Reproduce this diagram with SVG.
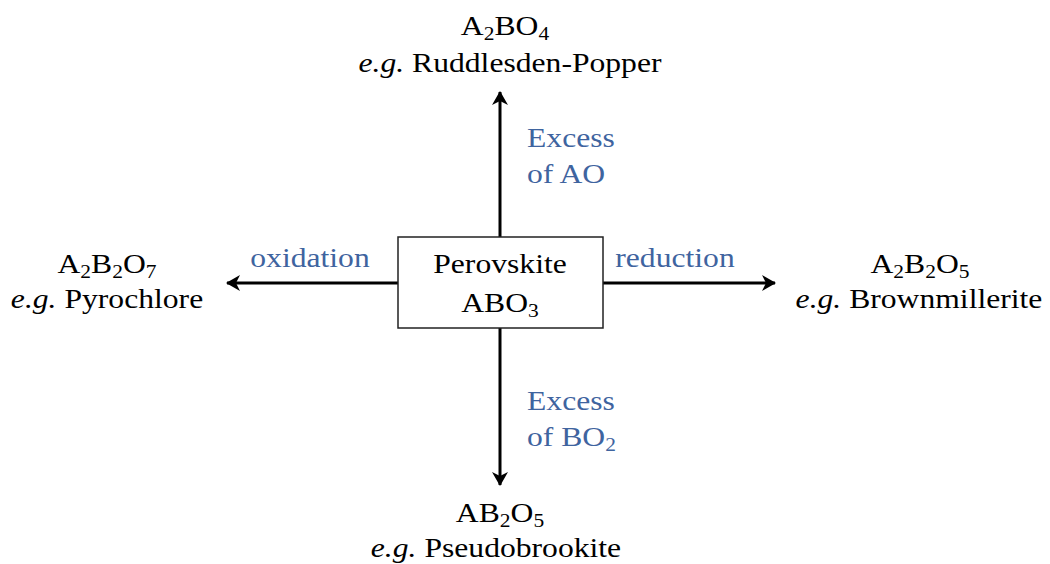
<svg xmlns="http://www.w3.org/2000/svg" width="1050" height="564" viewBox="0 0 1050 564" font-family="'Liberation Serif','Times New Roman',Times,serif">
<defs>
<style>
text{font-family:'Liberation Serif','Times New Roman',Times,serif;font-size:28px;fill:#000}
.b{fill:#3F649F}
.m{text-anchor:middle}
.s{font-size:19px}
.conn{stroke:#000;stroke-width:3;fill:none}
</style>
<marker id="ah" viewBox="0 0 14 16" refX="13" refY="8" markerWidth="14" markerHeight="16" markerUnits="userSpaceOnUse" orient="auto">
<path d="M0,0 L14,8 L0,16 L4,8 Z" fill="#000"/>
</marker>
</defs>
<rect width="1050" height="564" fill="#fff"/>
<g id="connectors">
<line class="conn" x1="500" y1="237" x2="500" y2="92" marker-end="url(#ah)"/>
<line class="conn" x1="500" y1="328" x2="500" y2="485" marker-end="url(#ah)"/>
<line class="conn" x1="398" y1="283" x2="227" y2="283" marker-end="url(#ah)"/>
<line class="conn" x1="603" y1="283" x2="775" y2="283" marker-end="url(#ah)"/>
<g transform="translate(527,147) scale(1.13,1)"><text class="b">Excess</text></g>
<g transform="translate(527,183) scale(1.13,1)"><text class="b">of AO</text></g>
<g transform="translate(527,410) scale(1.13,1)"><text class="b">Excess</text></g>
<g transform="translate(527,446) scale(1.13,1)"><text class="b">of BO<tspan class="s" dy="5">2</tspan></text></g>
<g transform="translate(310,267) scale(1.13,1)"><text class="b m">oxidation</text></g>
<g transform="translate(675,267) scale(1.13,1)"><text class="b m">reduction</text></g>
</g>
<g id="perovskite">
<rect x="398" y="237" width="205" height="91" fill="#fff" stroke="#222" stroke-width="1.5"/>
<g transform="translate(500,273) scale(1.13,1)"><text class="m">Perovskite</text></g>
<g transform="translate(500,312) scale(1.13,1)"><text class="m">ABO<tspan class="s" dy="5">3</tspan></text></g>
</g>
<g id="ruddlesden">
<g transform="translate(505,35) scale(1.13,1)"><text class="m">A<tspan class="s" dy="5">2</tspan><tspan dy="-5">BO</tspan><tspan class="s" dy="5">4</tspan></text></g>
<g transform="translate(510,72) scale(1.13,1)"><text class="m"><tspan font-style="italic">e.g.</tspan> Ruddlesden-Popper</text></g>
</g>
<g id="pyrochlore">
<g transform="translate(107,273) scale(1.13,1)"><text class="m">A<tspan class="s" dy="5">2</tspan><tspan dy="-5">B</tspan><tspan class="s" dy="5">2</tspan><tspan dy="-5">O</tspan><tspan class="s" dy="5">7</tspan></text></g>
<g transform="translate(107,308) scale(1.13,1)"><text class="m"><tspan font-style="italic">e.g.</tspan> Pyrochlore</text></g>
</g>
<g id="brownmillerite">
<g transform="translate(920,273) scale(1.13,1)"><text class="m">A<tspan class="s" dy="5">2</tspan><tspan dy="-5">B</tspan><tspan class="s" dy="5">2</tspan><tspan dy="-5">O</tspan><tspan class="s" dy="5">5</tspan></text></g>
<g transform="translate(919,308) scale(1.13,1)"><text class="m"><tspan font-style="italic">e.g.</tspan> Brownmillerite</text></g>
</g>
<g id="pseudobrookite">
<g transform="translate(500,522) scale(1.13,1)"><text class="m">AB<tspan class="s" dy="5">2</tspan><tspan dy="-5">O</tspan><tspan class="s" dy="5">5</tspan></text></g>
<g transform="translate(496,557) scale(1.13,1)"><text class="m"><tspan font-style="italic">e.g.</tspan> Pseudobrookite</text></g>
</g>
</svg>
